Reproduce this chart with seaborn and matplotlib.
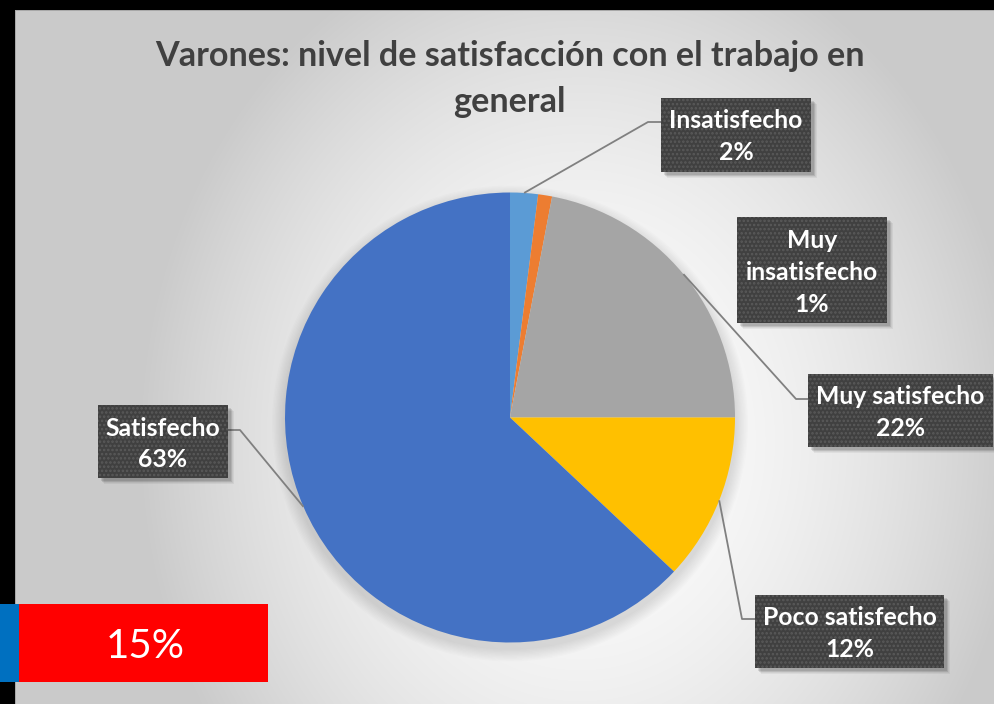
import numpy as np
import matplotlib
matplotlib.use("Agg")
import matplotlib.pyplot as plt
from matplotlib.patches import Rectangle, Circle
import seaborn as sns

# ---------------- data ----------------
categories = ["Insatisfecho", "Muy insatisfecho", "Muy satisfecho", "Poco satisfecho", "Satisfecho"]
values = [2, 1, 22, 12, 63]
label_lines = [["Insatisfecho", "2%"],
               ["Muy", "insatisfecho", "1%"],
               ["Muy satisfecho", "22%"],
               ["Poco satisfecho", "12%"],
               ["Satisfecho", "63%"]]
title_lines = ["Varones: nivel de satisfacción con el trabajo en", "general"]
badge_text = "15%"

# ---------------- style ----------------
sns.set_theme(style="white")
plt.rcParams["font.family"] = ["Lato", "DejaVu Sans"]
colors = ["#5B9BD5", "#ED7D31", "#A5A5A5", "#FFC000", "#4472C4"]
sns.set_palette(colors)

W, H = 995, 704
fig = plt.figure(figsize=(W / 100, H / 100), dpi=100)
ax = fig.add_axes([0, 0, 1, 1])


def Y(y):
    return H - y


# background radial gradient
yy, xx = np.mgrid[0:H, 0:W]
d = np.sqrt(((xx - 580) / 440.0) ** 2 + ((yy - 440) / 520.0) ** 2)
g = 0.995 - 0.2 * np.clip(d, 0, 1) ** 1.8
img = np.dstack([g, g, g])
ax.imshow(img, extent=(0, W, 0, H), origin="upper", zorder=0, interpolation="bilinear")

# frame strips
ax.add_patch(Rectangle((0, Y(10)), W, 10, color="black", zorder=1, lw=0))
ax.add_patch(Rectangle((0, 0), 15, H, color="black", zorder=1, lw=0))
ax.add_patch(Rectangle((15, 0), 1, H - 10, color="#a8a8a8", zorder=1, lw=0))
ax.add_patch(Rectangle((15, Y(11)), W - 15, 1, color="#a8a8a8", zorder=1, lw=0))

# pie
cx, cy, R = 510, 417.5, 225
for k in range(10, 0, -1):
    ax.add_patch(Circle((cx, Y(cy + 6)), R + k * 1.3, color="black", alpha=0.012, lw=0, zorder=2))
wedges, _ = ax.pie(values, colors=colors, startangle=90, counterclock=False,
                   center=(cx, Y(cy)), radius=R, frame=True,
                   wedgeprops=dict(linewidth=0))
for w_ in wedges:
    w_.set_zorder(3)

# label boxes layout (pixels, y down): x0, y0, x1, y1
boxes = [(661, 98, 811, 172),
         (737, 217, 887, 323),
         (808, 374, 993, 447),
         (755, 595, 944, 668),
         (98, 405, 228, 478)]
baselines = [[128, 160], [248, 280, 312], [404, 436], [625, 657], [436, 467]]
elbows = [[(648, 122), (661, 122)],
          None,
          [(796, 399), (808, 399)],
          [(742, 619), (755, 619)],
          [(240, 430), (228, 430)]]

# leader lines from wedge mid-angles
for w_, el in zip(wedges, elbows):
    if el is None:
        continue
    mid = np.deg2rad((w_.theta1 + w_.theta2) / 2)
    px = cx + R * np.cos(mid)
    py = Y(cy) + R * np.sin(mid)
    xs = [px] + [p[0] for p in el]
    ys = [py] + [Y(p[1]) for p in el]
    ax.plot(xs, ys, color="#808080", lw=1.3, zorder=4, solid_capstyle="butt")

plt.rcParams["hatch.linewidth"] = 1.2

fsize = 17.8
for (x0, y0, x1, y1), lines, bls in zip(boxes, label_lines, baselines):
    for k in range(6, 0, -1):
        ax.add_patch(Rectangle((x0 + 2 + k * 0.6, Y(y1) - 2 - k * 0.6), x1 - x0, y1 - y0,
                               color="black", alpha=0.05, lw=0, zorder=5))
    ax.add_patch(Rectangle((x0, Y(y1)), x1 - x0, y1 - y0, facecolor="#404040",
                           edgecolor="none", lw=0, zorder=6))
    ax.add_patch(Rectangle((x0, Y(y1)), x1 - x0, y1 - y0, fill=False,
                           edgecolor="#5a5a5a", hatch="....", lw=0, zorder=6.5))
    xc = (x0 + x1) / 2
    for t, b in zip(lines, bls):
        ax.text(xc, Y(b), t, ha="center", va="baseline", color="white",
                fontsize=fsize, fontweight="bold", zorder=7)

# title
ax.text(510, Y(66), title_lines[0], ha="center", va="baseline", color="#404040",
        fontsize=24.6, fontweight="bold", zorder=7)
ax.text(509, Y(112), title_lines[1], ha="center", va="baseline", color="#404040",
        fontsize=24.6, fontweight="bold", zorder=7)

# badge
ax.add_patch(Rectangle((0, Y(682)), 19, 78, color="#0070C0", lw=0, zorder=8))
ax.add_patch(Rectangle((19, Y(682)), 249, 78, color="#FF0000", lw=0, zorder=8))
ax.text(145, Y(658), badge_text, ha="center", va="baseline", color="white",
        fontsize=29, fontweight="normal", zorder=9)

ax.set_xlim(0, W)
ax.set_ylim(0, H)
ax.set_aspect("auto")
ax.axis("off")

fig.savefig("out.png", dpi=100)
